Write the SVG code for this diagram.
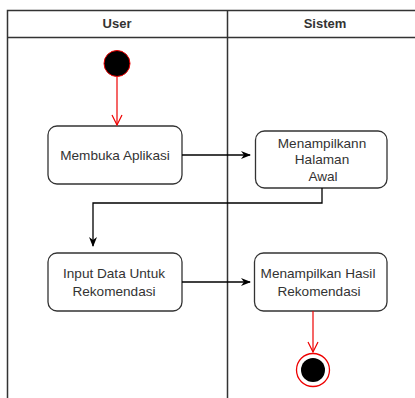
<svg xmlns="http://www.w3.org/2000/svg" width="415" height="398" viewBox="0 0 415 398">
<style>
.lane{stroke:#333;stroke-width:1.5;fill:none}
.hdr{font-family:"Liberation Sans",Arial,sans-serif;font-size:13px;font-weight:bold;fill:#333;text-anchor:middle}
.box{fill:#fff;stroke:#333;stroke-width:1.3}
.t{font-family:"Liberation Sans",Arial,sans-serif;font-size:13.6px;fill:#333;text-anchor:middle}
.c{fill:none;stroke:#000;stroke-width:1.3}
.r{fill:none;stroke:#e00;stroke-width:1.2}
</style>
<defs>
<marker id="ab" viewBox="0 0 10 10" refX="9" refY="5" markerWidth="10" markerHeight="10" markerUnits="userSpaceOnUse" orient="auto"><path d="M0,1 L10,5 L0,9 L3,5 Z" fill="#000"/></marker>
<marker id="ar" viewBox="0 0 12 12" refX="11" refY="6" markerWidth="12" markerHeight="12" markerUnits="userSpaceOnUse" orient="auto"><path d="M1,1 L11,6 L1,11" fill="none" stroke="#e00" stroke-width="1.2"/></marker>
</defs>
<g id="lanes">
<path class="lane" d="M7.5,398 V10.5 H415 M7.5,37.5 H415 M227.5,10.5 V398"/>
<text class="hdr" x="117" y="28">User</text>
<text class="hdr" x="325" y="28">Sistem</text>
</g>
<g id="start"><circle cx="117" cy="63.5" r="13" fill="#000" stroke="#e00" stroke-width="1"/></g>
<g id="n1"><rect class="box" x="48" y="126" width="134" height="58" rx="9"/><text class="t" x="115" y="160">Membuka Aplikasi</text></g>
<g id="n2"><rect class="box" x="255.5" y="131" width="131.5" height="57" rx="9"/><text class="t" x="322" y="148">Menampilkann</text><text class="t" x="322" y="164">Halaman</text><text class="t" x="323" y="181">Awal</text></g>
<g id="n3"><rect class="box" x="48" y="253" width="134" height="58" rx="9"/><text class="t" x="114" y="278">Input Data Untuk</text><text class="t" x="114" y="296">Rekomendasi</text></g>
<g id="n4"><rect class="box" x="254.5" y="253" width="132.5" height="58" rx="9"/><text class="t" x="318" y="278">Menampilkan Hasil</text><text class="t" x="319" y="296">Rekomendasi</text></g>
<g id="end"><circle cx="313" cy="370" r="16.5" fill="#fff" stroke="#e00" stroke-width="1.3"/><circle cx="313" cy="370" r="12" fill="#000"/></g>
<g id="connectors">
<path class="r" d="M117,77 V125" marker-end="url(#ar)"/>
<path class="c" d="M182,155 H250" marker-end="url(#ab)"/>
<path class="c" d="M322,188 V203 H93 V246" marker-end="url(#ab)"/>
<path class="c" d="M182,282 H250" marker-end="url(#ab)"/>
<path class="r" d="M313,311 V352" marker-end="url(#ar)"/>
</g>
</svg>
